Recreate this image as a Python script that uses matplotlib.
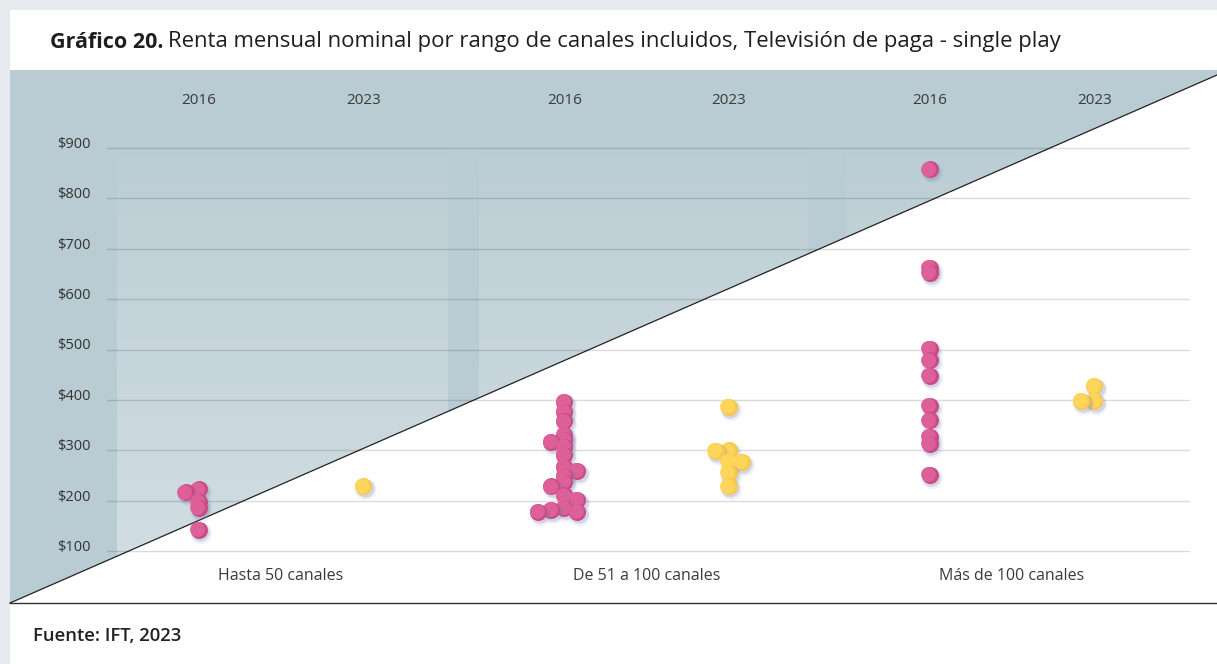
import numpy as np
import matplotlib
matplotlib.use('Agg')
import matplotlib.pyplot as plt
from matplotlib.patches import Polygon, Rectangle
from matplotlib.transforms import blended_transform_factory, offset_copy, ScaledTranslation

plt.rcParams['font.family'] = ['Open Sans', 'DejaVu Sans']

# datos (renta mensual nominal, pesos)
grupos = ['Hasta 50 canales', 'De 51 a 100 canales', 'Más de 100 canales']
anios = ['2016', '2023']
renta_2016 = [
    [223, 217, 198, 186, 142],
    [396, 376, 358, 331, 321, 317, 307, 291, 267, 259, 249, 237, 229, 211,
     202, 186, 182, 178, 178],
    [858, 662, 652, 501, 479, 448, 388, 360, 327, 313, 251],
]
renta_2023 = [
    [229],
    [386, 300, 299, 277, 277, 255, 229],
    [428, 398, 398],
]
y_ticks = [100, 200, 300, 400, 500, 600, 700, 800, 900]
y_labels = ['\\$' + str(v) for v in y_ticks]

W, H = 1217, 664
fig = plt.figure(figsize=(W / 100, H / 100), dpi=100)
fig.patch.set_facecolor('#e6e9ed')

# fondo en coordenadas de pixel
bg = fig.add_axes([0, 0, 1, 1])
bg.axis('off')
bg.add_patch(Rectangle((10, 10), W - 10, H - 10, color='white', lw=0))
tri = Polygon([(10, 603), (10, 70), (W, 70), (W, 75)], closed=True,
              facecolor='#b9ccd3', lw=0)
bg.add_patch(tri)
grad = np.ones((256, 1, 4))
grad[:, 0, 3] = np.linspace(0, 0.38, 256)
for x0, x1 in [(117, 448), (479, 808), (846, W)]:
    im = bg.imshow(grad, extent=[x0, x1, 603, 100], aspect='auto', zorder=2)
    im.set_clip_path(tri)
bg.plot([10, W], [603, 75], color='#222222', lw=0.9, zorder=3)
bg.plot([10, W], [603, 603], color='#333333', lw=1, zorder=3)
bg.set_xlim(0, W)
bg.set_ylim(H, 0)

# ejes de datos
ax = fig.add_axes([107 / W, (H - 603) / H, (1190 - 107) / W, 533 / H])
ax.patch.set_alpha(0)
ppu = (551 - 148) / 800
ax.set_ylim(100 - (603 - 551) / ppu, 900 + (148 - 70) / ppu)
ax.set_xlim(-0.476, 2.487)
for s in ax.spines.values():
    s.set_visible(False)
ax.set_xticks([])
ax.set_yticks(y_ticks)
ax.set_yticklabels(y_labels, fontsize=10.5, color='#333333')
ax.tick_params(axis='y', length=0, pad=12)
for lab in ax.get_yticklabels():
    lab.set_transform(lab.get_transform() + ScaledTranslation(0, 4 / 72, fig.dpi_scale_trans))
ax.grid(axis='y', color='black', alpha=0.14, lw=1)
ax.set_axisbelow(True)

trans = blended_transform_factory(ax.transData, ax.transAxes)
off = 0.225


def swarm(xc, vals, min_d=5.0, step=13.0):
    pts = ax.transData.transform(np.column_stack([np.full(len(vals), xc), vals]))
    placed = []
    nl, nr = 0, 0
    for px, py in pts:
        cands = [0]
        for k in [1, 2, 3]:
            cands += [-k, k] if nl <= nr else [k, -k]
        for k in cands:
            cx = px + k * step
            if all(np.hypot(cx - qx, py - qy) >= min_d for qx, qy in placed):
                break
        nl += k < 0
        nr += k > 0
        placed.append((cx, py))
    return ax.transData.inverted().transform(np.array(placed))


sh1 = offset_copy(ax.transData, fig=fig, x=2, y=-3, units='dots')
sh2 = offset_copy(ax.transData, fig=fig, x=1.5, y=-2, units='dots')
hl = offset_copy(ax.transData, fig=fig, x=-1.5, y=0.5, units='dots')


def puntos(xc, vals, color, luz):
    xy = swarm(xc, vals)
    for x, y in xy:
        ax.scatter(x, y, s=230, color='#6f73aa', alpha=0.10, lw=0, transform=sh1, zorder=3)
        ax.scatter(x, y, s=175, color='#6f73aa', alpha=0.22, lw=0, transform=sh2, zorder=3)
        ax.scatter(x, y, s=150, color=color, lw=0, zorder=3)
        ax.scatter(x, y, s=115, color=luz, lw=0, transform=hl, zorder=3)


for i, g in enumerate(grupos):
    puntos(i - off, renta_2016[i], '#c94b86', '#de6099')
    puntos(i + off, renta_2023[i], '#f6c94c', '#fdd55b')
    ax.text(i - off, 0.942, anios[0], transform=trans, ha='center', va='center',
            fontsize=11, color='#3a3a3a')
    ax.text(i + off, 0.942, anios[1], transform=trans, ha='center', va='center',
            fontsize=11, color='#3a3a3a')
    ax.text(i, 0.0507, g, transform=trans, ha='center', va='center',
            fontsize=11.5, color='#3a3a3a')

# titulo y fuente
r = fig.canvas.get_renderer()
t1 = fig.text(50 / W, 1 - 42 / H, 'Gráfico 20.', fontsize=15.5, weight='bold',
              color='#1e1e1e', va='center')
x1 = t1.get_window_extent(r).x1
fig.text((x1 + 5) / W, 1 - 42 / H,
         'Renta mensual nominal por rango de canales incluidos, Televisión de paga - single play',
         fontsize=15.9, color='#1e1e1e', va='center')
fig.text(33 / W, 1 - 636 / H, 'Fuente: IFT, 2023', fontsize=13.3, weight='semibold',
         color='#222222', va='center')

fig.savefig('out.png', dpi=100)
